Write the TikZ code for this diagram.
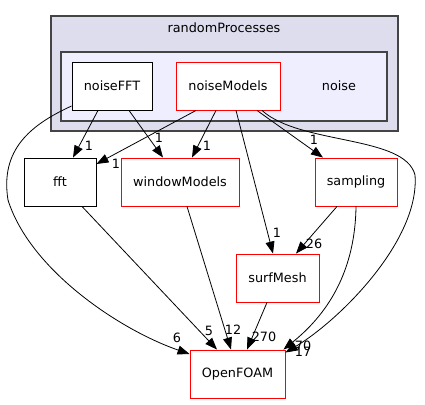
\documentclass[tikz,border=0pt]{standalone}
\usepackage{fontspec}
\setmainfont{DejaVu Sans}
\usetikzlibrary{arrows.meta}
\definecolor{outerfill}{HTML}{DDDDEE}
\definecolor{innerfill}{HTML}{EEEEFF}
\definecolor{clborder}{HTML}{444444}
\definecolor{boxred}{HTML}{FF0000}
\begin{document}
\begin{tikzpicture}[x=1pt,y=-1pt,
  every node/.style={font=\fontsize{12.8}{15}\selectfont, inner sep=0pt},
  dirbox/.style={draw=black, fill=white, line width=0.9pt, minimum height=48pt},
  redbox/.style={draw=boxred, fill=white, line width=0.9pt, minimum height=48pt},
  cluster/.style={draw=clborder, line width=1.4pt},
  edge/.style={draw=black, line width=0.8pt, -{Triangle[length=12pt,width=9pt]}},
  lbl/.style={font=\fontsize{12.8}{15}\selectfont}]
\useasboundingbox (0,0) rectangle (425,404);
% clusters
\node[cluster, fill=outerfill, minimum width=347pt, minimum height=115pt] (randomProcesses) at (224.5,73.5) {};
\node at (224,28) (rpLabel) {randomProcesses};
\node[cluster, fill=innerfill, minimum width=326pt, minimum height=69pt] (noiseCl) at (224,86.5) {};
\node at (339,86) (noiseLabel) {noise};
% nodes
\node[dirbox, minimum width=80pt] (noiseFFT) at (112,86) {noiseFFT};
\node[redbox, minimum width=104pt] (noiseModels) at (228,86) {noiseModels};
\node[dirbox, minimum width=72pt] (fft) at (60,182) {fft};
\node[redbox, minimum width=118pt] (windowModels) at (180,182) {windowModels};
\node[redbox, minimum width=82pt] (sampling) at (356,182) {sampling};
\node[redbox, minimum width=83pt] (surfMesh) at (277.5,278) {surfMesh};
\node[redbox, minimum width=95pt] (OpenFOAM) at (237.5,374) {OpenFOAM};
% edges
\draw[edge] ([xshift=-14pt]noiseFFT.south) -- ([xshift=13pt]fft.north);
\draw[edge] ([xshift=17pt]noiseFFT.south) -- ([xshift=-17pt]windowModels.north);
\draw[edge] ([xshift=-32pt]noiseModels.south) -- ([yshift=18pt]fft.east);
\draw[edge] ([xshift=-12pt]noiseModels.south) -- ([xshift=12pt]windowModels.north);
\draw[edge] ([xshift=29pt]noiseModels.south) -- ([xshift=-33pt]sampling.north);
\draw[edge] ([xshift=34pt]noiseModels.south) .. controls (300,145) and (405,135) .. (415,175)
   .. controls (420,240) and (340,320) .. ([yshift=-3pt]OpenFOAM.north east);
\draw[edge] ([xshift=8pt]noiseModels.south) -- ([xshift=-4.5pt]surfMesh.north);
\draw[edge] ([yshift=-20pt]noiseFFT.west) .. controls (30,125) and (0,150) .. (8,200)
   .. controls (30,270) and (120,330) .. ([yshift=20pt]OpenFOAM.west);
\draw[edge] ([xshift=22pt]fft.south) -- ([xshift=-20.5pt]OpenFOAM.north);
\draw[edge] ([xshift=7pt]windowModels.south) -- ([xshift=-6.5pt]OpenFOAM.north);
\draw[edge] ([xshift=-10.5pt]surfMesh.south) -- ([xshift=9.5pt]OpenFOAM.north);
\draw[edge] ([xshift=-19pt]sampling.south) -- ([xshift=18.5pt]surfMesh.north);
\draw[edge] (sampling.south) .. controls (355,280) and (320,320) .. ([xshift=-2pt]OpenFOAM.north east);
% edge labels
\node[lbl] (l1) at (89,146) {1};
\node[lbl] (l2) at (159,138) {1};
\node[lbl] (l3) at (116,164) {1};
\node[lbl] (l4) at (207,146) {1};
\node[lbl] (l5) at (314,140) {1};
\node[lbl] (l6) at (277,233) {1};
\node[lbl] (l7) at (177,338) {6};
\node[lbl] (l8) at (209,331) {5};
\node[lbl] (l9) at (233,330) {12};
\node[lbl] (l10) at (264,337) {270};
\node[lbl] (l11) at (314,244) {26};
\node[lbl] (l12) at (303,346) {70};
\node[lbl] (l13) at (303,352) {17};
\end{tikzpicture}
\end{document}
